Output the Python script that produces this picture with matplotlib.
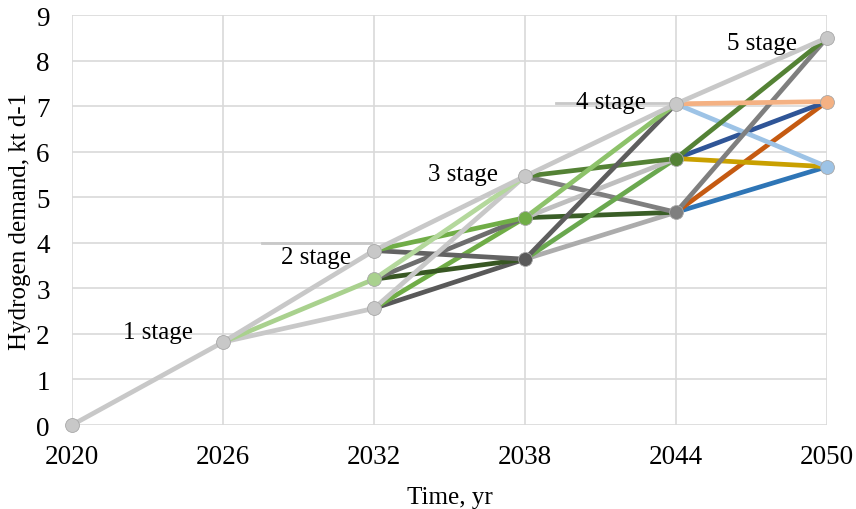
import matplotlib.pyplot as plt

# stage years and node values (kt/d)
years = [2020, 2026, 2032, 2038, 2044, 2050]
node_values = [
    [0.0],
    [1.82],
    [3.83, 3.20, 2.56],
    [5.46, 4.55, 3.64],
    [7.05, 5.85, 4.67],
    [8.50, 7.10, 5.67],
]

# scenario tree branches: (stage, from node, to node)
edges = [
    (0, 0, 0),
    (1, 0, 2), (1, 0, 1), (1, 0, 0),
    (2, 2, 2), (2, 2, 1), (2, 1, 2), (2, 1, 1), (2, 0, 2), (2, 0, 1),
    (2, 2, 0), (2, 1, 0), (2, 0, 0),
    (3, 2, 2), (3, 1, 2), (3, 0, 2), (3, 2, 1), (3, 1, 1), (3, 0, 1),
    (3, 2, 0), (3, 1, 0), (3, 0, 0),
    (4, 2, 2), (4, 2, 1), (4, 1, 1), (4, 1, 2), (4, 0, 2), (4, 2, 0),
    (4, 1, 0), (4, 0, 1), (4, 0, 0),
]
edge_colors = [
    '#c8c8c8',
    '#c8c8c8', '#a9d18e', '#c8c8c8',
    '#595959', '#70ad47', '#385723', '#6e6e6e', '#636363', '#70ad47',
    '#c8c8c8', '#b4d89c', '#c8c8c8',
    '#acacac', '#3a5e27', '#7f7f7f', '#6aa84f', '#bfbfbf', '#548235',
    '#5e5e5e', '#8dc26a', '#c8c8c8',
    '#2e75b6', '#c55a11', '#2f5597', '#c9a000', '#9dc3e6', '#7f7f7f',
    '#548235', '#f4b183', '#c8c8c8',
]
node_colors = [
    ['#c8c8c8'],
    ['#c8c8c8'],
    ['#c8c8c8', '#a9d18e', '#c8c8c8'],
    ['#c8c8c8', '#70ad47', '#595959'],
    ['#c8c8c8', '#548235', '#7f7f7f'],
    ['#c8c8c8', '#f4b183', '#9dc3e6'],
]
stage_labels = ['1 stage', '2 stage', '3 stage', '4 stage', '5 stage']

plt.rcParams['font.family'] = ['Liberation Serif', 'DejaVu Serif']

fig = plt.figure(figsize=(8.56, 5.10), dpi=100)
ax = fig.add_axes([72/856, 1-426/510, 755/856, 410/510])

for (s, i, j), c in zip(edges, edge_colors):
    ax.plot([years[s], years[s+1]], [node_values[s][i], node_values[s+1][j]],
            color=c, lw=3.4, solid_capstyle='round', clip_on=False, zorder=3)

for s, vals in enumerate(node_values):
    for v, c in zip(vals, node_colors[s]):
        ax.plot(years[s], v, 'o', ms=10, color=c, mec='#a8a8a8', mew=0.6,
                clip_on=False, zorder=4)

# label underlines
ax.plot([2027.55, 2031.9], [4.0, 4.0], color='#c8c8c8', lw=2, zorder=2)
ax.plot([2039.25, 2044.0], [7.07, 7.07], color='#c8c8c8', lw=2, zorder=2)

label_pos = [(2023.4, 2.04), (2029.7, 3.68), (2035.55, 5.5), (2041.4, 7.1), (2047.4, 8.38)]
for txt, (x, y) in zip(stage_labels, label_pos):
    ax.text(x, y, txt, fontsize=18, ha='center', va='center', zorder=5)

ax.set_xlim(2020, 2050)
ax.set_ylim(0, 9)
ax.set_xticks(years)
ax.set_yticks(range(10))
ax.tick_params(length=0, labelsize=19.5)
ax.tick_params(axis='y', pad=16)
ax.tick_params(axis='x', pad=14)
ax.grid(True, color='#d9d9d9', lw=1.2, zorder=0)
ax.set_axisbelow(True)
for sp in ax.spines.values():
    sp.set_visible(False)

ax.set_xlabel('Time, yr', fontsize=18, labelpad=12)
ax.set_ylabel('Hydrogen demand, kt d-1', fontsize=18, labelpad=4)

fig.savefig('out.png', dpi=100)
